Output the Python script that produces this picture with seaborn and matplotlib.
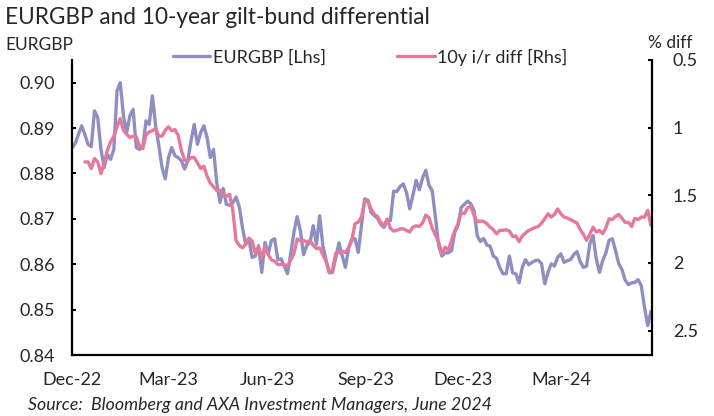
import numpy as np
import pandas as pd
import matplotlib
matplotlib.use("Agg")
import matplotlib.pyplot as plt
import matplotlib.dates as mdates
from matplotlib.ticker import FixedLocator, FuncFormatter
import seaborn as sns

# EURGBP, sampled every 3 days from 1 Dec 2022
eurgbp = [
    0.8857, 0.8866, 0.8886, 0.8905, 0.8886, 0.8864, 0.8859, 0.8938, 0.8923, 0.8853,
    0.8813, 0.8842, 0.8831, 0.8853, 0.8982, 0.9000, 0.8927, 0.8890, 0.8927, 0.8941,
    0.8857, 0.8853, 0.8857, 0.8916, 0.8908, 0.8971, 0.8905, 0.8861, 0.8813, 0.8788,
    0.8835, 0.8857, 0.8839, 0.8835, 0.8828, 0.8810, 0.8828, 0.8872, 0.8908, 0.8864,
    0.8890, 0.8905, 0.8879, 0.8835, 0.8853,
    0.8780, 0.8736, 0.8767, 0.8732, 0.8730, 0.8735, 0.8748, 0.8727, 0.8681, 0.8644,
    0.8656, 0.8615, 0.8618, 0.8641, 0.8582, 0.8648, 0.8623, 0.8652, 0.8656, 0.8610,
    0.8612, 0.8596, 0.8579, 0.8623, 0.8670, 0.8705, 0.8674, 0.8621, 0.8641, 0.8648,
    0.8685, 0.8644, 0.8707, 0.8641, 0.8609, 0.8581, 0.8582, 0.8615, 0.8647, 0.8619,
    0.8593, 0.8635, 0.8656, 0.8656, 0.8626,
    0.8685, 0.8744, 0.8741, 0.8714, 0.8707, 0.8701, 0.8688, 0.8681, 0.8696, 0.8696,
    0.8761, 0.8760, 0.8771, 0.8777, 0.8758, 0.8722, 0.8752, 0.8785, 0.8764, 0.8790,
    0.8807, 0.8774, 0.8762, 0.8703, 0.8641, 0.8618, 0.8625, 0.8625, 0.8630, 0.8670,
    0.8685, 0.8725, 0.8732, 0.8739, 0.8733, 0.8718, 0.8663, 0.8650, 0.8657, 0.8642,
    0.8640, 0.8618, 0.8613, 0.8593, 0.8579,
    0.8579, 0.8618, 0.8581, 0.8579, 0.8559, 0.8593, 0.8610, 0.8599, 0.8604, 0.8608,
    0.8609, 0.8601, 0.8557, 0.8582, 0.8601, 0.8596, 0.8615, 0.8623, 0.8604, 0.8608,
    0.8610, 0.8621, 0.8628, 0.8606, 0.8593, 0.8596, 0.8645, 0.8663, 0.8612, 0.8582,
    0.8608, 0.8625, 0.8653, 0.8656, 0.8630, 0.8601, 0.8588, 0.8565, 0.8555, 0.8559,
    0.8560, 0.8566, 0.8553, 0.8505, 0.8465, 0.8496,
]

# 10y gilt-bund differential (%), same dates, starts a little later
spread = [np.nan] * 4 + [
    1.253, 1.253, 1.302, 1.228, 1.253, 1.340, 1.265, 1.167, 1.105, 1.063,
    0.994, 0.932, 1.019, 1.048, 1.073, 1.063, 1.068, 1.137, 1.154, 1.056,
    1.031, 1.023, 1.006, 1.063, 1.063, 1.019, 0.994, 1.023, 1.014, 1.056,
    1.167, 1.241, 1.241, 1.221, 1.221, 1.260, 1.302, 1.285, 1.359, 1.409,
    1.438,
    1.463, 1.463, 1.488, 1.507, 1.493, 1.611, 1.833, 1.870, 1.888, 1.863,
    1.816, 1.838, 1.927, 1.883, 1.957, 1.883, 1.937, 1.977, 1.987, 2.011,
    2.011, 2.011, 2.024, 1.977, 1.932, 1.823, 1.836, 1.833, 1.846, 1.833,
    1.870, 1.893, 1.888, 1.940, 1.987, 2.068, 2.051, 1.927, 1.925, 1.912,
    1.922, 1.888, 1.833, 1.710, 1.698,
    1.660, 1.542, 1.547, 1.601, 1.641, 1.656, 1.700, 1.722, 1.675, 1.744,
    1.764, 1.759, 1.749, 1.747, 1.759, 1.772, 1.735, 1.725, 1.730, 1.705,
    1.646, 1.665, 1.744, 1.794, 1.846, 1.932, 1.883, 1.907, 1.833, 1.759,
    1.715, 1.628, 1.636, 1.591, 1.581, 1.648, 1.695, 1.690, 1.693, 1.710,
    1.735, 1.754, 1.784, 1.759, 1.759,
    1.754, 1.764, 1.804, 1.801, 1.843, 1.801, 1.779, 1.759, 1.749, 1.737,
    1.730, 1.705, 1.673, 1.636, 1.661, 1.641, 1.601, 1.636, 1.661, 1.668,
    1.680, 1.693, 1.705, 1.752, 1.789, 1.833, 1.789, 1.735, 1.772, 1.759,
    1.784, 1.740, 1.673, 1.680, 1.656, 1.641, 1.670, 1.700, 1.700, 1.730,
    1.670, 1.680, 1.661, 1.661, 1.611, 1.722,
]

left_ticks = [0.84, 0.85, 0.86, 0.87, 0.88, 0.89, 0.90]
right_ticks = [0.5, 1.0, 1.5, 2.0, 2.5]

dates = pd.date_range("2022-12-01", periods=len(eurgbp), freq="3D")
df = pd.DataFrame({"date": dates, "eurgbp": eurgbp, "spread": spread})

blue = "#8F8EC2"
pink = "#E6789C"

sns.set_style("white")
plt.rcParams["font.family"] = ["Lato", "DejaVu Sans"]
plt.rcParams["text.color"] = "#262626"

fig = plt.figure(figsize=(7.14, 4.16), dpi=100)
ax = fig.add_axes([72 / 714, 61 / 416, 580 / 714, 295 / 416])
ax2 = ax.twinx()

sns.lineplot(data=df, x="date", y="eurgbp", ax=ax, color=blue, linewidth=2.4,
             label="EURGBP [Lhs]", legend=False)
sns.lineplot(data=df, x="date", y="spread", ax=ax2, color=pink, linewidth=2.4,
             label="10y i/r diff [Rhs]", legend=False)

ax.set_xlim(dates[0], dates[-1] + pd.Timedelta(days=1))
ax.set_ylim(0.84, 0.905)
ax2.set_ylim(2.68, 0.5)

ax.set_xlabel("")
ax.set_ylabel("")
ax2.set_ylabel("")

ax.xaxis.set_major_locator(mdates.MonthLocator(bymonth=[3, 6, 9, 12]))
ax.xaxis.set_minor_locator(mdates.MonthLocator())
ax.xaxis.set_major_formatter(mdates.DateFormatter("%b-%y"))

ax.yaxis.set_major_locator(FixedLocator(left_ticks))
ax.yaxis.set_major_formatter(FuncFormatter(lambda v, p: f"{v:.2f}"))
ax2.yaxis.set_major_locator(FixedLocator(right_ticks))
ax2.yaxis.set_major_formatter(FuncFormatter(lambda v, p: f"{v:g}"))

for a in (ax, ax2):
    for s in a.spines.values():
        s.set_visible(False)
ax.spines["left"].set_visible(True)
ax.spines["bottom"].set_visible(True)
ax2.spines["right"].set_visible(True)
for s in (ax.spines["left"], ax.spines["bottom"], ax2.spines["right"]):
    s.set_color("black")
    s.set_linewidth(1.6)

ax.tick_params(axis="x", which="major", direction="in", length=4, width=1.5,
               pad=12, labelsize=13, colors="black", labelcolor="#262626")
ax.tick_params(axis="x", which="minor", direction="in", length=3, width=1.5,
               colors="black")
ax.tick_params(axis="y", direction="in", length=3, width=1.5, pad=12,
               labelsize=13, colors="black", labelcolor="#262626")
ax2.tick_params(axis="y", direction="in", length=3, width=1.5, pad=15,
                labelsize=13, colors="black", labelcolor="#262626")

fig.text(5 / 714, 1 - 17 / 416, "EURGBP and 10-year gilt-bund differential",
         fontsize=16.3, va="center", ha="left")
fig.text(5 / 714, 1 - 45 / 416, "EURGBP", fontsize=12.5, va="center", ha="left")
fig.text(648 / 714, 1 - 43 / 416, "% diff", fontsize=12.5, va="center", ha="left")
fig.text(28 / 714, 1 - 405 / 416,
         "Source:  Bloomberg and AXA Investment Managers, June 2024",
         fontsize=12.8, style="italic", va="center", ha="left")

h1, l1 = ax.get_legend_handles_labels()
h2, l2 = ax2.get_legend_handles_labels()
fig.legend(h1 + h2, l1 + l2, loc="center", bbox_to_anchor=(370 / 714, 1 - 57 / 416),
           ncol=2, frameon=False, fontsize=13, handlelength=2.1,
           handletextpad=0.15, columnspacing=3.9, borderpad=0)

fig.savefig("out.png", dpi=100)
